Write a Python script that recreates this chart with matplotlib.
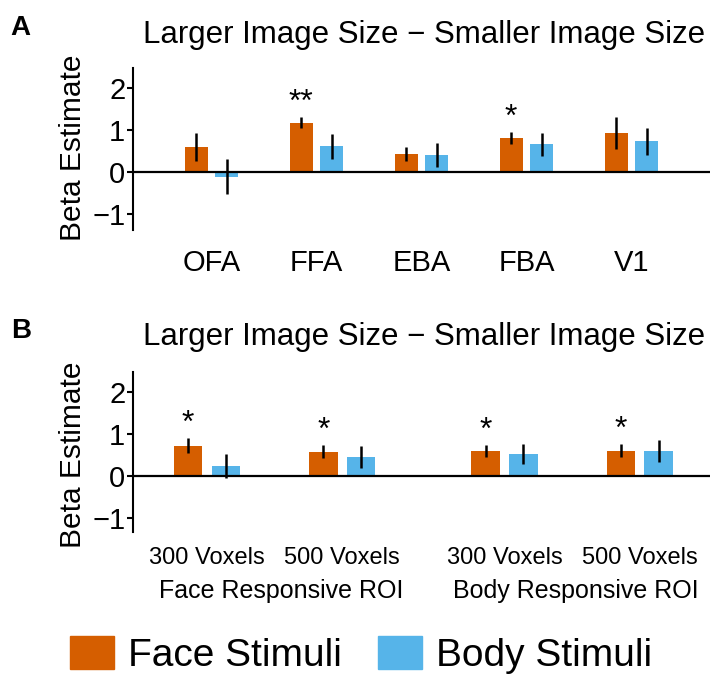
import numpy as np
import matplotlib
matplotlib.use("Agg")
import matplotlib.pyplot as plt
from matplotlib.patches import Patch
from matplotlib.transforms import blended_transform_factory

plt.rcParams['font.family'] = ['Liberation Sans', 'DejaVu Sans']

# datos panel A
rois = ["OFA", "FFA", "EBA", "FBA", "V1"]
face_a = [0.59, 1.18, 0.43, 0.82, 0.92]
face_a_err = [0.33, 0.13, 0.16, 0.14, 0.38]
body_a = [-0.11, 0.61, 0.40, 0.66, 0.73]
body_a_err = [0.42, 0.29, 0.29, 0.27, 0.32]
stars_a = ["", "**", "", "*", ""]

# datos panel B
voxels = ["300 Voxels", "500 Voxels", "300 Voxels", "500 Voxels"]
grupos = ["Face Responsive ROI", "Body Responsive ROI"]
face_b = [0.72, 0.58, 0.60, 0.60]
face_b_err = [0.18, 0.15, 0.14, 0.16]
body_b = [0.23, 0.44, 0.52, 0.60]
body_b_err = [0.28, 0.26, 0.24, 0.26]
stars_b = ["*", "*", "*", "*"]

naranja = "#D55E00"
azul = "#56B4E9"
titulo = "Larger Image Size \u2212 Smaller Image Size"

fig = plt.figure(figsize=(7.1, 6.77), dpi=100)
axA = fig.add_axes([0.1873, 0.6603, 0.8127, 0.2393])
axB = fig.add_axes([0.1873, 0.2146, 0.8127, 0.2363])


def panel(ax, x, face, face_err, body, body_err, stars, w, off):
    x = np.asarray(x, dtype=float)
    ax.bar(x - off, face, w, color=naranja, linewidth=0)
    ax.bar(x + off, body, w, color=azul, linewidth=0)
    ax.errorbar(x - off, face, yerr=face_err, fmt='none', ecolor='black', elinewidth=1.8, capsize=0)
    ax.errorbar(x + off, body, yerr=body_err, fmt='none', ecolor='black', elinewidth=1.8, capsize=0)
    for xi, m, e, s in zip(x, face, face_err, stars):
        if s:
            ax.text(xi - off, m + e + 0.34, s, ha='center', va='center', fontsize=23)
    ax.axhline(0, color='black', lw=1.6)
    for side in ['top', 'right', 'bottom']:
        ax.spines[side].set_visible(False)
    ax.spines['left'].set_linewidth(1.5)
    ax.set_yticks([-1, 0, 1, 2])
    ax.tick_params(axis='y', direction='out', length=4, width=1.5, pad=1.5, labelsize=21)
    ax.tick_params(axis='x', length=0)


# Panel A
xa = np.arange(1, 6)
panel(axA, xa, face_a, face_a_err, body_a, body_a_err, stars_a, 0.22, 0.145)
axA.set_xlim(0.25, 5.75)
axA.set_ylim(-1.38, 2.48)
axA.set_xticks(xa)
axA.set_xticklabels(rois, fontsize=21)
axA.tick_params(axis='x', pad=14)

# Panel B
xb = [1, 2, 3.2, 4.2]
panel(axB, xb, face_b, face_b_err, body_b, body_b_err, stars_b, 0.21, 0.14)
axB.set_xlim(0.452, 4.72)
axB.set_ylim(-1.33, 2.48)
axB.set_xticks(xb)
axB.set_xticklabels(voxels, fontsize=17)
axB.tick_params(axis='x', pad=11)
trans = blended_transform_factory(axB.transData, axB.transAxes)
axB.text((xb[0] + xb[1]) / 2 + 0.05, -0.37, grupos[0], transform=trans, ha='center', va='center', fontsize=18)
axB.text((xb[2] + xb[3]) / 2 + 0.03, -0.37, grupos[1], transform=trans, ha='center', va='center', fontsize=18)

# titulos, letras y etiquetas
fig.text(0.015, 0.9483, "A", fontsize=20, fontweight='bold', va='baseline')
fig.text(0.015, 0.5007, "B", fontsize=20, fontweight='bold', va='baseline')
fig.text(424 / 710, 0.937, titulo, fontsize=22.5, ha='center', va='baseline')
fig.text(424 / 710, 0.4904, titulo, fontsize=22.5, ha='center', va='baseline')
fig.text(73 / 710, 0.7814, "Beta Estimate", rotation=90, fontsize=21.5, ha='center', va='center')
fig.text(73 / 710, 0.329, "Beta Estimate", rotation=90, fontsize=21.5, ha='center', va='center')

# leyenda
handles = [Patch(color=naranja, label="Face Stimuli"), Patch(color=azul, label="Body Stimuli")]
fig.legend(handles=handles, loc='center', bbox_to_anchor=(0.508, 0.0325), ncol=2, frameon=False,
           fontsize=28, handlelength=1.13, handleheight=0.925, handletextpad=0.36,
           columnspacing=0.93, borderpad=0, borderaxespad=0)

fig.savefig("out.png", dpi=100)
